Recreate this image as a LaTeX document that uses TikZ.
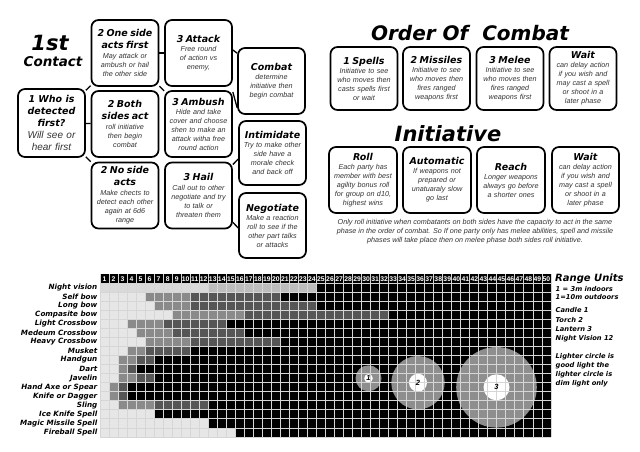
\documentclass[tikz,border=0pt]{standalone}
\usepackage{fontspec}
\setmainfont{Liberation Sans}
\newfontfamily\heavyfont{DejaVu Sans}
\usepackage{tikz}

\definecolor{cellA}{HTML}{E6E6E6}
\definecolor{nightA}{HTML}{D9D9D9}
\definecolor{nightB}{HTML}{BDBDBD}
\definecolor{cellB}{HTML}{8A8A8A}
\definecolor{cellC}{HTML}{565656}
\definecolor{glow}{HTML}{8E8E8E}
\definecolor{gridgray}{HTML}{D6D6D6}

\newcommand{\boxhead}[1]{{\heavyfont\bfseries\itshape\color{black}\fontsize{9.5}{12}\selectfont #1}}

\begin{document}
\begin{tikzpicture}[x=1pt,y=-1pt,
  card/.style={draw, line width=1.7pt, rounded corners=7pt, fill=white,
    minimum width=67pt, minimum height=66pt, text width=64pt, inner sep=1pt,
    align=center, text=black!80, font=\fontsize{7.2}{9}\selectfont\itshape},
  slim/.style={card, minimum height=63pt},
  link/.style={line width=1.3pt},
  bigtitle/.style={inner sep=0pt, font=\heavyfont\bfseries\itshape\fontsize{#1}{#1}\selectfont},
  rowlab/.style={anchor=east, inner sep=0pt, font=\heavyfont\bfseries\itshape\fontsize{7.2}{8}\selectfont},
  headnum/.style={inner sep=0pt, text=white, font=\bfseries\fontsize{6.8}{7}\selectfont},
  lampnum/.style={inner sep=0pt, font=\bfseries\itshape\fontsize{7.5}{8}\selectfont},
  legend/.style={anchor=west, inner sep=0pt, align=left, font=\heavyfont\bfseries\itshape\fontsize{6.7}{9}\selectfont},
  gridline/.style={gridgray, line width=0.9pt}]
  \useasboundingbox (0,0) rectangle (640,452);
  \fill[white] (0,0) rectangle (640,452);

  % first contact flow
  \node[bigtitle=21] (first) at (50,43) {1st};
  \node[bigtitle=13.5] (contact) at (53,62) {Contact};
  \node[card, minimum height=68pt, font=\fontsize{10}{12}\selectfont\itshape] (who) at (51.5,123)
    {\boxhead{1 Who is\\detected\\first?}\\Will see or\\hear first};
  \node[card] (one) at (125,53) {\boxhead{2 One side\\[3pt]acts first}\\[1pt]May attack or\\ambush or hail\\the other side};
  \node[card] (both) at (125,124) {\boxhead{2 Both\\[3pt]sides act}\\[1pt]roll initiative\\then begin\\combat};
  \node[card] (noside) at (125,195.5) {\boxhead{2 No side\\[3pt]acts}\\[1pt]Make chects to\\detect each other\\again at 6d6\\range};
  \node[card] (attack) at (198.5,53) {\boxhead{3 Attack}\\Free round\\of action vs\\enemy,};
  \node[card] (ambush) at (198.5,124) {\boxhead{3 Ambush}\\Hide and take\\cover and choose\\shen to make an\\attack witha free\\round action};
  \node[card] (hail) at (198.5,195.5) {\boxhead{3 Hail}\\[1pt]Call out to other\\negotiate and try\\to talk or\\threaten them};
  \node[card] (combat) at (271.5,81) {\boxhead{Combat}\\determine\\initiative then\\begin combat};
  \node[card, minimum height=64pt] (intimidate) at (272.5,153) {\boxhead{Intimidate}\\Try to make other\\side have a\\morale check\\and back off};
  \node[card, minimum height=65pt] (negotiate) at (272.5,225.5) {\boxhead{Negotiate}\\Make a reaction\\roll to see if the\\other part talks\\or attacks};

  \draw[link] (who) -- (one);
  \draw[link] (who) -- (both);
  \draw[link] (who) -- (noside);
  \draw[link] (one) -- (attack);
  \draw[link] (one) -- (ambush);
  \draw[link] (attack.5) -- (combat.141);
  \draw[link] (ambush.43) -- (combat.218);
  \draw[link] (hail.42) -- (intimidate.190);
  \draw[link] (hail.-38) -- (negotiate.184);

  % order of combat
  \node[bigtitle=20] (order) at (470,33.5) {Order Of\ \ Combat};
  \node[slim] (spells) at (364,78.5) {\boxhead{1 Spells}\\Initiative to see\\who moves then\\casts spells first\\or wait};
  \node[slim] (missiles) at (436.5,78.5) {\boxhead{2 Missiles}\\Initiative to see\\who moves then\\fires ranged\\weapons first};
  \node[slim] (melee) at (510,78.5) {\boxhead{3 Melee}\\Initiative to see\\who moves then\\fires ranged\\weapons first};
  \node[slim] (waitA) at (583,78.5) {\boxhead{Wait}\\can delay action\\if you wish and\\may cast a spell\\or shoot in a\\later phase};

  % initiative
  \node[bigtitle=21] (initiative) at (448,134) {Initiative};
  \node[card, minimum width=68pt] (roll) at (363,180) {\boxhead{Roll}\\Each party has\\member with best\\agility bonus roll\\for group on d10,\\highest wins};
  \node[card, minimum width=68pt] (auto) at (437,180) {\boxhead{Automatic}\\If weapons not\\prepared or\\unatuaraly slow\\go last};
  \node[card, minimum width=68pt] (reach) at (511,180) {\boxhead{Reach}\\Longer weapons\\always go before\\a shorter ones};
  \node[card] (waitB) at (585.5,180) {\boxhead{Wait}\\can delay action\\if you wish and\\may cast a spell\\or shoot in a\\later phase};
  \node[align=center, inner sep=0pt, text=black!80, font=\fontsize{7.2}{9}\selectfont\itshape] (note) at (475,232)
    {Only roll initiative when combatants on both sides have the capacity to act in the same\\
     phase in the order of combat. So If one party only has melee abilities, spell and missile\\
     phases will take place then on melee phase both sides roll initiative.};

  % range chart: dark field, lighter runs per row
  \fill[black] (100,274) rectangle (551,{283+9.06*17});
  \foreach \r/\name/\runs in {
    1/Night vision/{1/12/nightA,13/24/nightB},
    2/Self bow/{1/5/cellA,6/10/cellB,11/20/cellC},
    3/Long bow/{1/6/cellA,7/10/cellB,11/24/cellC},
    4/Compasite bow/{1/8/cellA,9/16/cellB,17/32/cellC},
    5/Light Crossbow/{1/3/cellA,4/7/cellB,8/14/cellC},
    6/Medeum Crossbow/{1/4/cellA,5/8/cellB,9/16/cellC},
    7/Heavy Crossbow/{1/5/cellA,6/10/cellB,11/20/cellC},
    8/Musket/{1/3/cellA,4/5/cellB,6/10/cellC},
    9/Handgun/{1/2/cellA,3/4/cellB,5/6/cellC},
    10/Dart/{1/2/cellA,3/3/cellB,4/4/cellC},
    11/Javelin/{1/2/cellA,3/4/cellB,5/6/cellC},
    12/Hand Axe or Spear/{1/1/cellA,2/2/cellB,3/3/cellC},
    13/Knife or Dagger/{1/1/cellA,2/2/cellB,3/3/cellC},
    14/Sling/{1/2/cellA,3/6/cellB,7/12/cellC},
    15/Ice Knife Spell/{1/6/cellA},
    16/Magic Missile Spell/{1/12/cellA},
    17/Fireball Spell/{1/15/cellA}}
  {
    \node[rowlab] (lab\r) at (97.5,{283+9.06*(\r-0.5)}) {\name};
    \foreach \a/\b/\col in \runs
      \fill[\col] ({100+9.02*(\a-1)},{283+9.06*(\r-1)}) rectangle ({100+9.02*\b},{283+9.06*\r});
  }

  % light sources
  \fill[glow] (368.5,378.3) circle (13);
  \fill[glow] (418,382.7) circle (26.7);
  \fill[glow] (496.5,387.3) circle (40.3);
  \fill[white] (368.5,378.3) circle (4.3);
  \fill[white] (418,382.7) circle (9);
  \fill[white] (496.5,387.3) circle (13);

  % cell borders and column numbers
  \foreach \c in {0,...,50}
    \draw[gridline] ({100+9.02*\c},274) -- ({100+9.02*\c},{283+9.06*17});
  \foreach \r in {0,...,17}
    \draw[gridline] (100,{283+9.06*\r}) -- (551,{283+9.06*\r});
  \foreach \c in {1,...,50}
    \node[headnum] (h\c) at ({100+9.02*(\c-0.5)},278.8) {\c};
  \node[lampnum] (candle) at (368.5,378.3) {1};
  \node[lampnum] (torch) at (418,382.7) {2};
  \node[lampnum] (lantern) at (496.5,387.3) {3};

  % legend
  \node[legend, font=\heavyfont\bfseries\itshape\fontsize{10}{12}\selectfont] (units) at (555,278.5) {Range Units};
  \node[legend, font=\heavyfont\bfseries\itshape\fontsize{6.7}{8.3}\selectfont] (scale) at (555.5,293) {1 = 3m indoors\\1=10m outdoors};
  \node[legend, font=\heavyfont\bfseries\itshape\fontsize{6.7}{9.3}\selectfont] (lamps) at (555.5,325) {Candle 1\\Torch 2\\Lantern 3\\Night Vision 12};
  \node[legend] (circles) at (555.5,370.5) {Lighter circle is\\good light the\\lighter circle is\\dim light only};
\end{tikzpicture}
\end{document}
